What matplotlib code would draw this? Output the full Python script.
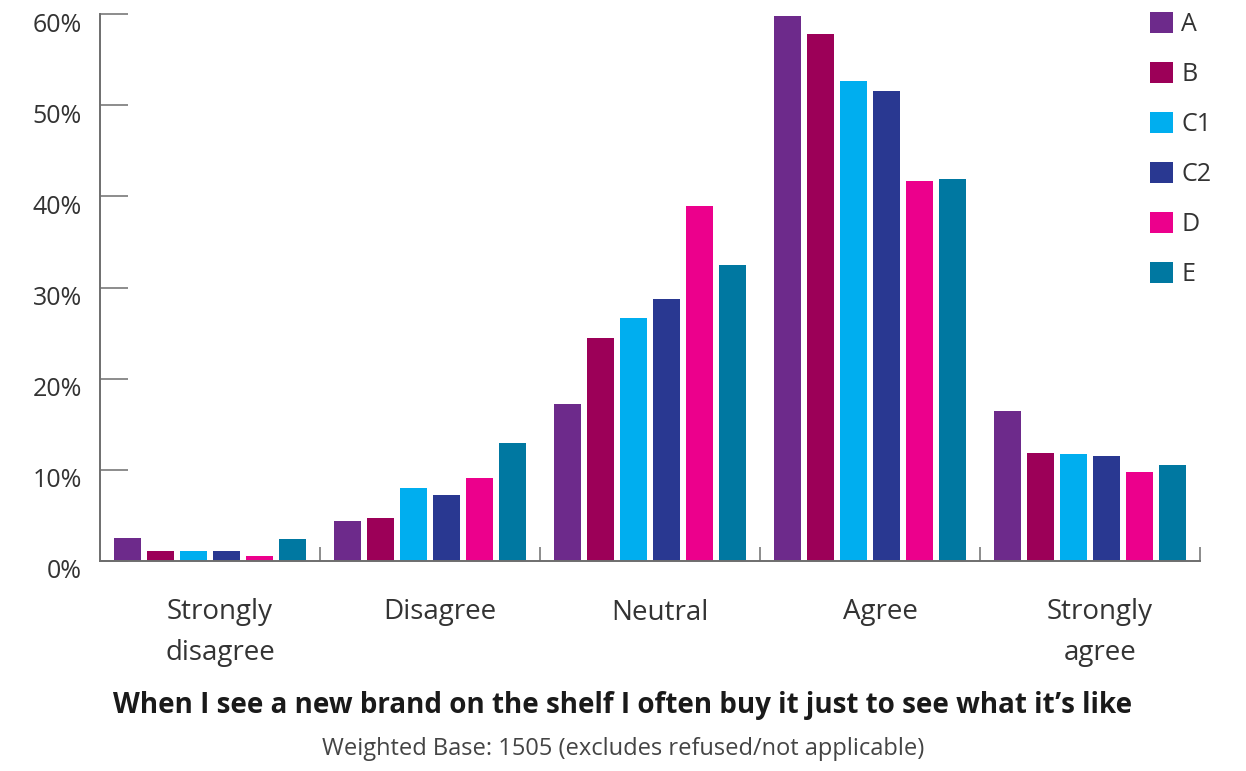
import matplotlib.pyplot as plt
import matplotlib.transforms as mtransforms
import numpy as np

plt.rcParams['font.family'] = ['Open Sans', 'DejaVu Sans']

categories = ['Strongly\ndisagree', 'Disagree', 'Neutral', 'Agree', 'Strongly\nagree']
series = ['A', 'B', 'C1', 'C2', 'D', 'E']
colors = ['#6d2a8b', '#9c0058', '#00aeef', '#293891', '#ec008c', '#0078a1']

vals_A = [2.5, 4.4, 17.2, 59.8, 16.4]
vals_B = [1.1, 4.7, 24.5, 57.8, 11.8]
vals_C1 = [1.1, 8.0, 26.6, 52.6, 11.7]
vals_C2 = [1.1, 7.2, 28.7, 51.5, 11.5]
vals_D = [0.5, 9.1, 38.9, 41.7, 9.8]
vals_E = [2.4, 12.9, 32.5, 41.9, 10.5]
all_vals = [vals_A, vals_B, vals_C1, vals_C2, vals_D, vals_E]

title = 'When I see a new brand on the shelf I often buy it just to see what it\u2019s like'
subtitle = 'Weighted Base: 1505 (excludes refused/not applicable)'

fig = plt.figure(figsize=(12.46, 7.71), dpi=100)
ax = fig.add_axes([100 / 1246, 210 / 771, 1100 / 1246, 547 / 771])

x = np.arange(len(categories))
step = 0.15
width = 0.123
for i, (name, v, c) in enumerate(zip(series, all_vals, colors)):
    ax.bar(x + (i - 2.5) * step, v, width, color=c, label=name)

ax.set_xlim(-0.5, len(categories) - 0.5)
ax.set_ylim(0, 60)

grey = '#6e6e6e'
for s in ['top', 'right']:
    ax.spines[s].set_visible(False)
for s in ['left', 'bottom']:
    ax.spines[s].set_color(grey)
    ax.spines[s].set_linewidth(1.4)

# y axis: ticks pointing into the plot
ax.set_yticks(np.arange(0, 61, 10))
ax.set_yticklabels([f'{t}%' for t in range(0, 61, 10)])
ax.tick_params(axis='y', direction='in', length=20, width=1.1, color=grey,
               pad=13, labelsize=18, labelcolor='#333333')
off = mtransforms.ScaledTranslation(0, -8 / 100, fig.dpi_scale_trans)
for lab in ax.get_yticklabels():
    lab.set_transform(lab.get_transform() + off)

# x axis: small separators between groups, labels slightly right of centre
ax.set_xticks(np.arange(0.5, len(categories), 1))
ax.set_xticklabels([])
ax.tick_params(axis='x', which='major', direction='in', length=10, width=1.1, color=grey)
ax.set_xticks(x + 10 / 220, minor=True)
ax.set_xticklabels(categories, minor=True, fontsize=20, color='#333333',
                   linespacing=1.6)
ax.tick_params(axis='x', which='minor', length=0, pad=27)

ax.legend(loc='upper left', bbox_to_anchor=(1150 / 1246, 1 - 12 / 771),
          bbox_transform=fig.transFigure, frameon=False, fontsize=18,
          handlelength=0.9, handleheight=0.9, handletextpad=0.35,
          labelspacing=1.0, borderpad=0, borderaxespad=0, labelcolor='#333333')

fig.text(0.5, 1 - 706 / 771, title, ha='center', va='center', fontsize=20,
         fontweight='bold', color='#1a1a1a')
fig.text(0.5, 1 - 749 / 771, subtitle, ha='center', va='center', fontsize=17,
         color='#444444')

fig.savefig('out.png', dpi=100)
